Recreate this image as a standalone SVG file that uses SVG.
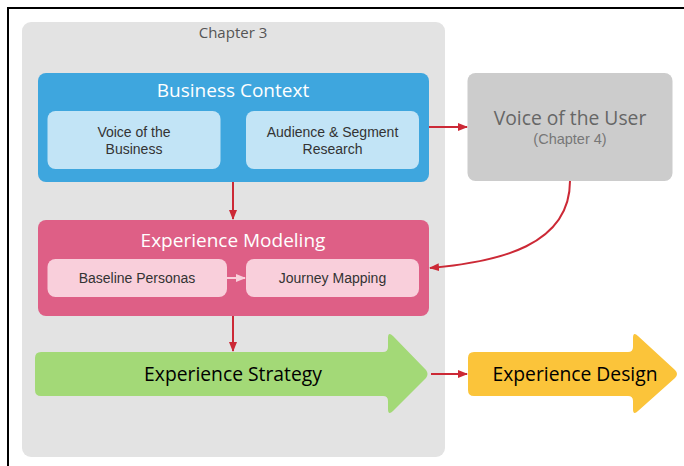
<svg xmlns="http://www.w3.org/2000/svg" width="684" height="466" viewBox="0 0 684 466">
<style>
text{font-family:"Open Sans","Noto Sans","Liberation Sans",sans-serif;text-anchor:middle}
.title{fill:#fff;font-size:19px}
.sub{fill:#333;font-size:14px;font-family:"Liberation Sans","Open Sans",sans-serif}
.big{fill:#000;font-size:19.3px}
.conn{stroke:#cc2936;stroke-width:2;fill:none;marker-end:url(#ah)}
</style>
<defs>
<marker id="ah" viewBox="0 0 10 10" refX="9" refY="5" markerWidth="5" markerHeight="5" orient="auto" markerUnits="strokeWidth">
<path d="M0,1 L10,5 L0,9 Z" fill="#cc2936"/>
</marker>
<marker id="ahp" viewBox="0 0 10 10" refX="9" refY="5" markerWidth="5" markerHeight="5" orient="auto" markerUnits="strokeWidth">
<path d="M0,1 L10,5 L0,9 Z" fill="#f9cfdb"/>
</marker>
</defs>
<rect width="684" height="466" fill="#fff"/>
<path d="M8,466 V8 H684" fill="none" stroke="#000" stroke-width="2"/>
<g id="chapter3">
<rect x="22" y="22" width="423" height="435" rx="9" fill="#e3e3e3"/>
<text x="233" y="38" style="fill:#555;font-size:15px">Chapter 3</text>
</g>
<g id="business-context">
<rect x="38" y="73" width="391" height="109" rx="8" fill="#3ea6de"/>
<text class="title" x="233" y="97">Business Context</text>
</g>
<g id="voice-business">
<rect x="47.5" y="111" width="173" height="58" rx="8" fill="#c2e4f6"/>
<text class="sub" x="134" y="137">Voice of the</text>
<text class="sub" x="134" y="154">Business</text>
</g>
<g id="audience">
<rect x="246" y="111" width="173" height="58" rx="8" fill="#c2e4f6"/>
<text class="sub" x="332.5" y="137">Audience &amp; Segment</text>
<text class="sub" x="332.5" y="154">Research</text>
</g>
<g id="voice-user">
<rect x="467.5" y="73" width="205" height="108" rx="8" fill="#cccccc"/>
<text x="570" y="124.5" style="fill:#666;font-size:19.3px">Voice of the User</text>
<text x="570" y="144" style="fill:#777;font-size:14.5px;font-family:'Liberation Sans','Open Sans',sans-serif">(Chapter 4)</text>
</g>
<g id="experience-modeling">
<rect x="38" y="220" width="391" height="96" rx="8" fill="#de5f86"/>
<text class="title" x="233" y="247">Experience Modeling</text>
</g>
<g id="baseline-personas">
<rect x="47.5" y="259" width="179.5" height="38" rx="8" fill="#f9cfdb"/>
<text class="sub" x="137" y="283">Baseline Personas</text>
</g>
<g id="journey-mapping">
<rect x="246" y="259" width="173" height="38" rx="8" fill="#f9cfdb"/>
<text class="sub" x="332.5" y="283">Journey Mapping</text>
</g>
<g id="experience-strategy">
<path d="M41,352 H383 Q388,352 388,347 V338 Q388,331 393,336 L426,370 Q429,374 426,378 L393,411 Q388,416 388,409 V401 Q388,396 383,396 H41 Q35,396 35,390 V358 Q35,352 41,352 Z" fill="#a3d977"/>
<text class="big" x="233" y="381">Experience Strategy</text>
</g>
<g id="experience-design">
<path d="M474,352 H628 Q633,352 633,347 V338 Q633,331 638,336 L675,370 Q679,374 675,378 L638,411 Q633,416 633,409 V401 Q633,396 628,396 H474 Q468,396 468,390 V358 Q468,352 474,352 Z" fill="#fbc43a"/>
<text class="big" x="575" y="381">Experience Design</text>
</g>
<g id="connectors">
<line class="conn" x1="429" y1="127" x2="467" y2="127"/>
<line class="conn" x1="233" y1="182" x2="233" y2="219"/>
<path class="conn" d="M570,181 C570,245 500,262 430,268"/>
<line x1="227" y1="278" x2="245" y2="278" stroke="#f9cfdb" stroke-width="2" marker-end="url(#ahp)"/>
<line class="conn" x1="233" y1="316" x2="233" y2="351"/>
<line class="conn" x1="431" y1="374" x2="467" y2="374"/>
</g>
</svg>
